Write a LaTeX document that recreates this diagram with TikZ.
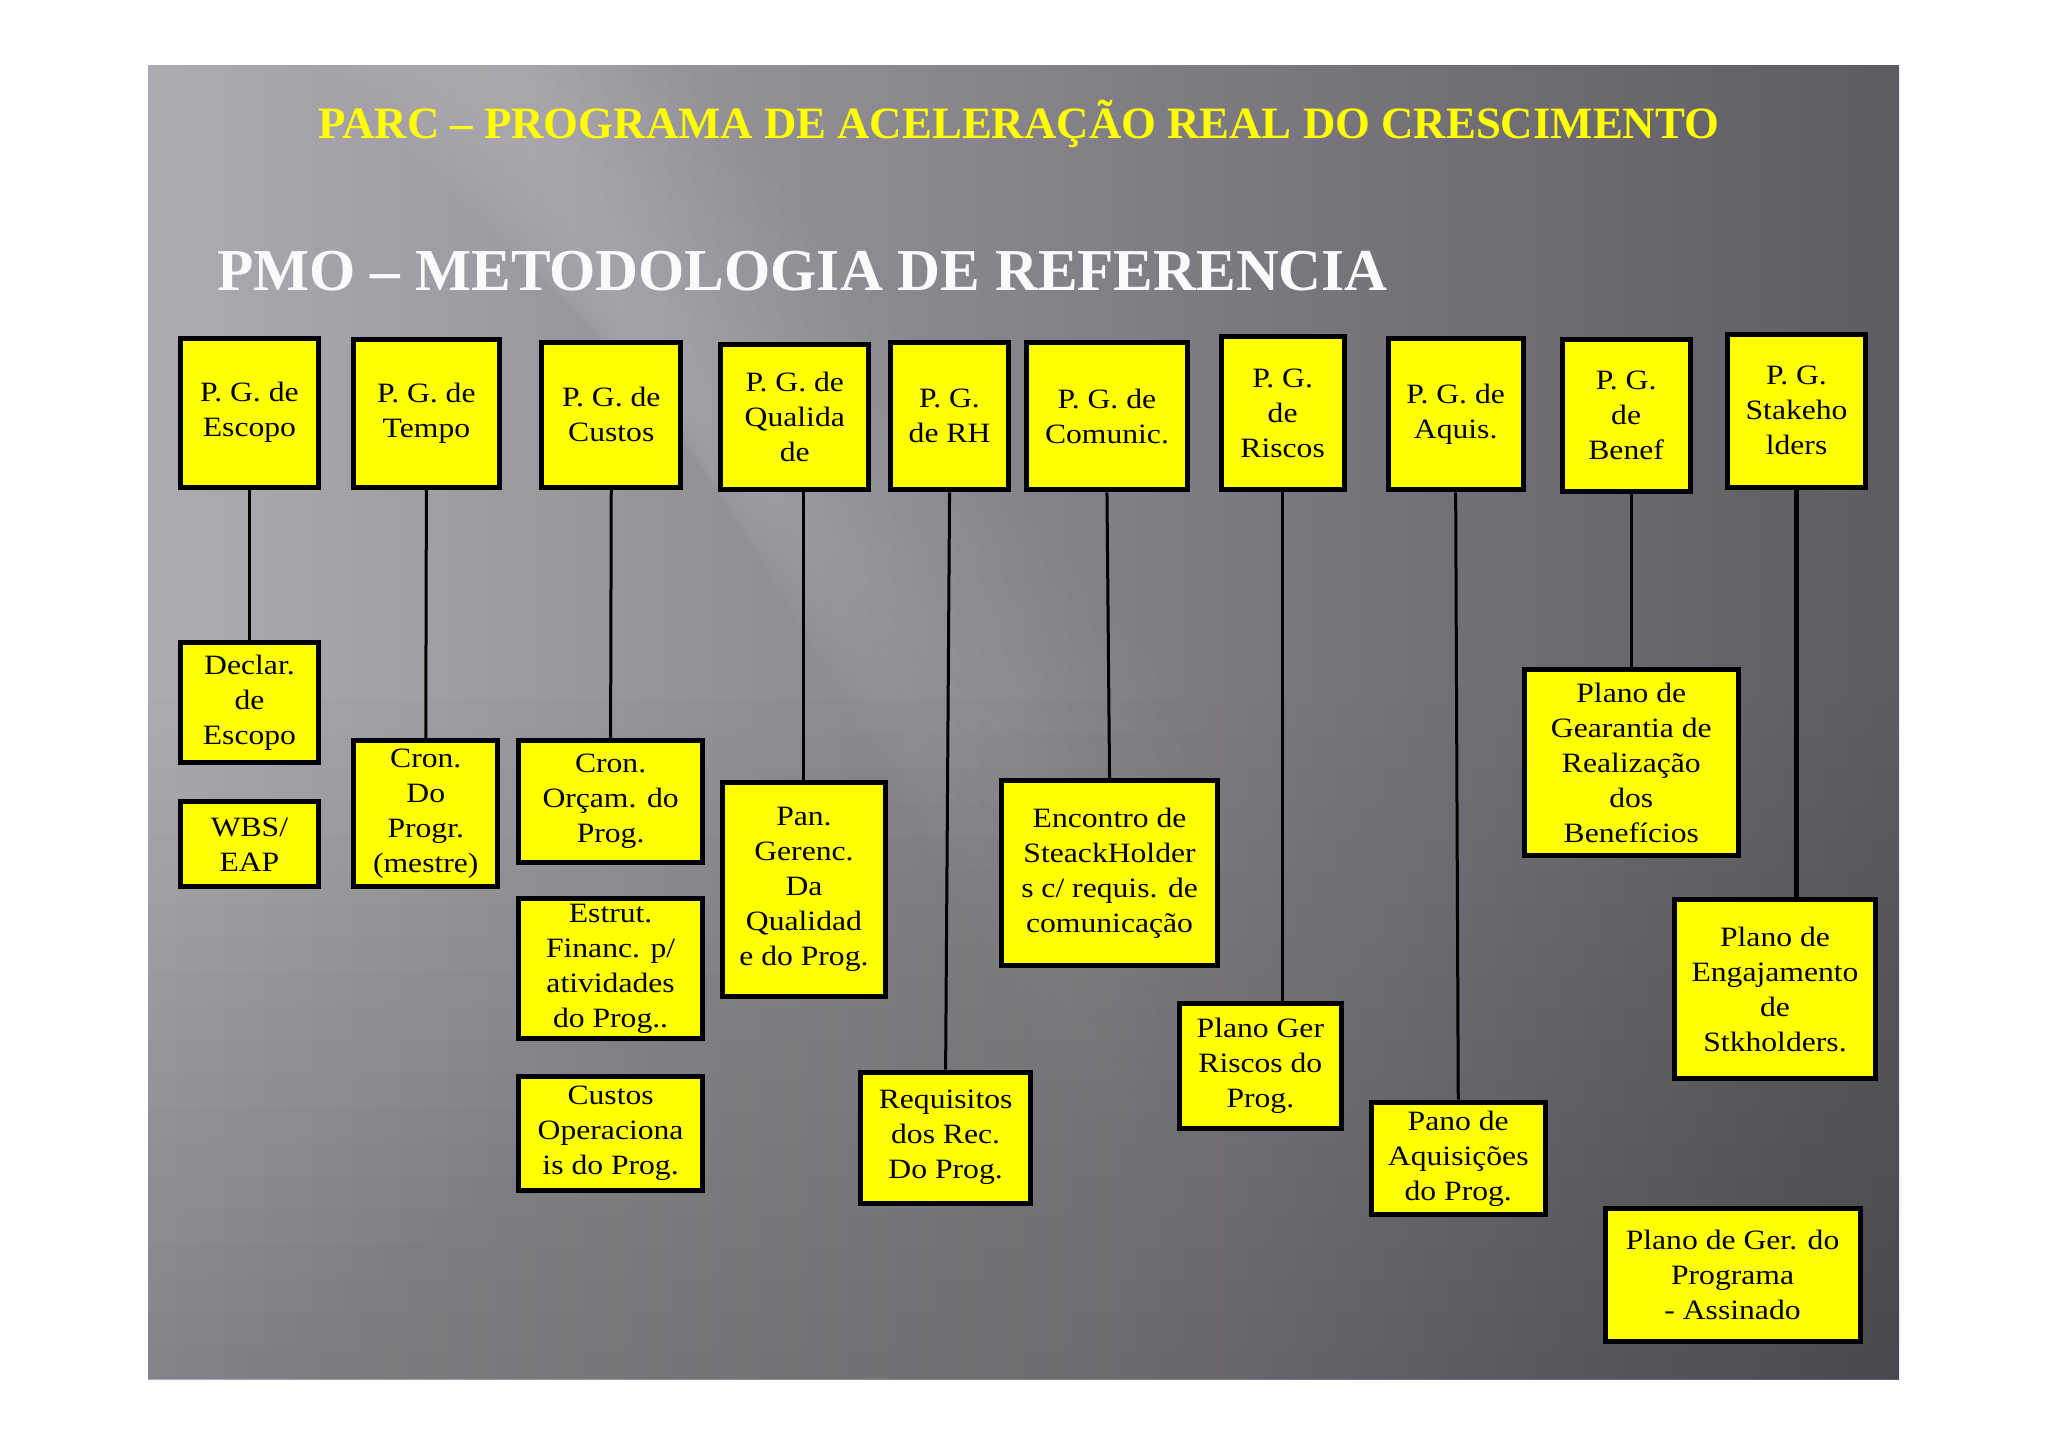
\documentclass[tikz,border=0pt]{standalone}
\usepackage{fontspec}
\setmainfont[FakeStretch=1.13]{Liberation Serif}
\newfontfamily\titlefont{Liberation Serif}
\usetikzlibrary{calc}
\definecolor{bgL}{HTML}{ADAAB1}
\definecolor{bgM}{HTML}{7F7C83}
\definecolor{bgR}{HTML}{5E5B62}
\definecolor{titleyellow}{HTML}{FFFF00}
\definecolor{titlewhite}{HTML}{FAFAFA}
\definecolor{boxyellow}{HTML}{FFFF00}
\tikzset{
  ybox/.style={draw=black, fill=boxyellow, line width=2.5pt, align=center,
    inner sep=1pt, text=black, font=\fontsize{14}{17.5}\selectfont},
  conn/.style={draw=black, line width=1.5pt},
  thickconn/.style={draw=black, line width=2.5pt},
  titleA/.style={anchor=base west, inner sep=0pt, text=titleyellow,
    font=\titlefont\bfseries\fontsize{22.4}{26}\selectfont},
  titleB/.style={anchor=base west, inner sep=0pt, text=titlewhite,
    font=\titlefont\bfseries\fontsize{29.7}{34}\selectfont}
}
\newcommand\ybox[6]{%
  \node[ybox, minimum width={(#4-#2-5)*0.5pt}, minimum height={(#5-#3-5)*0.5pt}]
    (#1) at ({(#2+#4)/2},{(#3+#5)/2}) {#6};}
\begin{document}
\begin{tikzpicture}[x=0.5pt,y=-0.5pt]
\useasboundingbox (0,0) rectangle (2048,1447);
\fill[white] (0,0) rectangle (2048,1447);
% slide background
\shade[left color=bgL, middle color=bgM, right color=bgR] (148,65) rectangle (1899,1379);
\begin{scope}
  \clip (148,65) rectangle (1899,1379);
  % soft light diagonal streak
  \foreach \k in {0,...,11} {
    \pgfmathsetmacro\w{30+14*\k}
    \pgfmathsetmacro\yb{1120-35*\k}
    \fill[white, opacity=0.011] ({500-\w},65) -- ({500+\w},65) -- ({1130+0.4*\w},\yb) -- ({1100-0.4*\w},\yb) -- cycle;
  }
  % soft darkening toward the bottom
  \foreach \k in {0,...,19} {
    \fill[black, opacity=0.007] (148,{700+34*\k}) rectangle (1899,1379);
  }
\end{scope}
% titles
\node[titleA] (t1) at (318,138.3) {PARC – PROGRAMA DE ACELERAÇÃO REAL DO CRESCIMENTO};
\node[titleB] (t2) at (217,290.7) {PMO – METODOLOGIA DE REFERENCIA};
% top row
\ybox{escopo}{177.6}{335.7}{321.3}{489.8}{P. G. de\\Escopo}
\ybox{tempo}{351.3}{337}{501.5}{489.8}{P. G. de\\Tempo}
\ybox{custos}{539.4}{339.6}{683.1}{489.8}{P. G. de\\Custos}
\ybox{qual}{718.4}{342.2}{871.2}{492.4}{P. G. de\\Qualida\\de}
\ybox{rh}{888.2}{339.6}{1010.9}{492.4}{P. G.\\de RH}
\ybox{comunic}{1024}{339.6}{1189.9}{492.4}{P. G. de\\Comunic.}
\ybox{riscos}{1218.6}{334.4}{1346.6}{492.4}{P. G.\\de\\Riscos}
\ybox{aquis}{1385.8}{335.7}{1525.5}{492.4}{P. G. de\\Aquis.}
\ybox{benef}{1559.5}{337}{1692.7}{493.7}{P. G.\\de\\Benef}
\ybox{stake}{1725.4}{331.8}{1867.7}{489.8}{P. G.\\Stakeho\\lders}
% lower boxes
\ybox{declar}{177.6}{640}{321.3}{765.4}{Declar.\\de\\Escopo}
\ybox{wbs}{177.6}{799.3}{321.3}{889.4}{WBS/\\EAP}
\ybox{cronDo}{351.3}{738}{500.2}{889.4}{Cron.\\Do\\Progr.\\(mestre)}
\ybox{cronOrc}{515.9}{738}{705.3}{864.6}{Cron.\\Orçam. do\\Prog.}
\ybox{estrut}{515.9}{896}{705.3}{1041}{Estrut.\\Financ. p/\\atividades\\do Prog..}
\ybox{custosOp}{515.9}{1073.6}{705.3}{1192.5}{Custos\\Operaciona\\is do Prog.}
\ybox{pan}{719.7}{779.7}{888.2}{999.2}{Pan.\\Gerenc.\\Da\\Qualidad\\e do Prog.}
\ybox{req}{858.1}{1069.7}{1033.1}{1205.5}{Requisitos\\dos Rec.\\Do Prog.}
\ybox{encontro}{999.2}{778.4}{1219.9}{967.8}{Encontro de\\SteackHolder\\s c/ requis. de\\comunicação}
\ybox{priscos}{1176.8}{1000.5}{1343.9}{1131.1}{Plano Ger\\Riscos do\\Prog.}
\ybox{paquis}{1368.8}{1099.7}{1547.7}{1217.3}{Pano de\\Aquisições\\do Prog.}
\ybox{gear}{1521.6}{667.4}{1741}{858.1}{Plano de\\Gearantia de\\Realização\\dos\\Benefícios}
\ybox{engaj}{1671.8}{897.3}{1878.2}{1081.4}{Plano de\\Engajamento\\de\\Stkholders.}
\ybox{assin}{1602.6}{1205.5}{1862.5}{1343.9}{Plano de Ger. do\\Programa\\- Assinado}
% connectors
\draw[conn] (escopo.south) -- (declar.north);
\draw[conn] (tempo.south) -- (cronDo.north);
\draw[conn] (custos.south) -- (cronOrc.north);
\draw[conn] (pan.north |- qual.south) -- (pan.north);
\draw[conn] (rh.south) -- (req.north);
\draw[conn] (comunic.south) -- (encontro.north);
\draw[conn] (riscos.south) -- (riscos.south |- priscos.north);
\draw[conn] (aquis.south) -- (paquis.north);
\draw[conn] (gear.north |- benef.south) -- (gear.north);
\draw[thickconn] (stake.south) -- (stake.south |- engaj.north);
\end{tikzpicture}
\end{document}
